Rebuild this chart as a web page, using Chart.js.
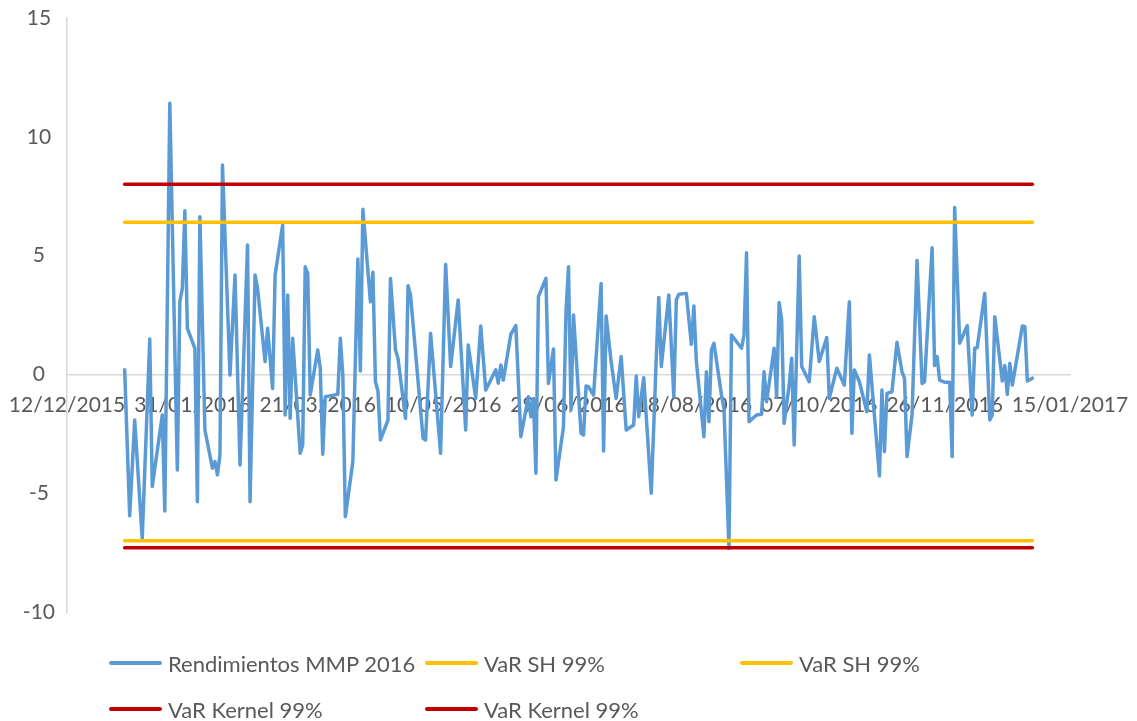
<!DOCTYPE html>
<html>
<head>
<meta charset="utf-8">
<title>Rendimientos MMP 2016</title>
<script src="https://cdn.jsdelivr.net/npm/chart.js@4"></script>
<style>
  html, body { margin: 0; padding: 0; background: #fff; }
  #wrap { position: relative; width: 1137px; height: 721px; }
  #legend { position: absolute; left: 0; top: 0; width: 100%; height: 100%; pointer-events: none;
            font-family: Lato, sans-serif; font-size: 22px; color: #595959; }
  .item { position: absolute; height: 26px; display: flex; align-items: center; white-space: nowrap; }
  .swatch { width: 53px; height: 4px; margin-right: 6px; border-radius: 2px; }
</style>
</head>
<body>
<div id="wrap">
  <canvas id="chart" width="1137" height="721"></canvas>
  <div id="legend"></div>
</div>
<script>
// x is days since 12/12/2015 (Excel date axis, major unit 50 days)
const BASE_DATE = Date.UTC(2015, 11, 12);
const X_TICKS = [0, 50, 100, 150, 200, 250, 300, 350, 400];
const Y_TICKS = [-10, -5, 0, 5, 10, 15];

const DAYS = [
  23, 25, 27, 30, 33, 34, 38, 39, 41, 44, 45, 46, 47, 48, 51, 52, 53, 55, 58, 59,
  60, 61, 62, 65, 67, 69, 72, 73, 75, 76, 79, 80, 82, 83, 86, 87, 88, 89, 90, 93,
  94, 95, 96, 97, 100, 101, 102, 103, 108, 109, 110, 111, 114, 116, 117, 118, 121, 122, 123, 124,
  125, 128, 129, 131, 132, 135, 136, 137, 142, 143, 145, 149, 151, 153, 156, 159, 160, 163, 165, 167,
  171, 172, 173, 174, 177, 179, 181, 184, 185, 186, 187, 188, 191, 192, 194, 195, 198, 199, 200, 201,
  202, 205, 206, 207, 208, 210, 213, 214, 215, 217, 219, 221, 223, 226, 227, 228, 230, 233, 235, 236,
  237, 240, 242, 243, 244, 247, 249, 250, 251, 254, 255, 256, 257, 258, 261, 262, 264, 265, 269, 270,
  271, 272, 275, 277, 278, 279, 282, 283, 284, 285, 286, 288, 289, 290, 292, 293, 296, 298, 300, 303,
  304, 305, 307, 310, 312, 313, 314, 316, 319, 320, 324, 325, 326, 327, 329, 331, 333, 334, 335, 337,
  339, 341, 342, 345, 346, 347, 348, 350, 352, 353, 354, 356, 359, 361, 362, 363, 366, 368, 369, 370,
  373, 374, 375, 376, 377, 381, 382, 383, 385
];
const RETURNS = [
  0.2, -5.95, -1.92, -6.9, 1.49, -4.72, -1.71, -5.75, 11.41, -4.02, 3.06, 3.62, 6.89, 1.94, 1.1, -5.36, 6.64, -2.34, -3.95, -3.67,
  -4.23, -3.39, 8.81, -0.03, 4.18, -3.81, 5.45, -5.36, 4.18, 3.62, 0.54, 1.94, -0.59, 4.18, 6.29, -1.71, 3.34, -1.85, 1.52, -3.32,
  -2.97, 4.53, 4.25, -0.87, 1.03, 0.26, -3.36, -0.94, -0.84, 1.52, -0.03, -5.99, -3.67, 4.86, 0.14, 6.95, 3.06, 4.3, -0.31, -0.7,
  -2.76, -1.92, 4.04, 1.03, 0.68, -1.85, 3.73, 3.34, -2.69, -2.76, 1.73, -3.32, 4.63, 0.33, 3.13, -2.34, 1.24, -1.01, 2.04, -0.66,
  0.19, -0.37, 0.4, -0.24, 1.69, 2.05, -2.62, -0.94, -1.78, -1.01, -4.16, 3.27, 4.04, -0.38, 1.07, -4.44, -2.2, 2.64, 4.53, -1.5,
  2.5, -2.48, -2.55, -0.49, -0.52, -0.87, 3.83, -3.22, 2.46, 0.54, -1.01, 0.75, -2.34, -2.13, -0.07, -1.78, -0.14, -5.0, 0.68, 3.24,
  0.33, 3.34, -0.94, 3.13, 3.37, 3.41, 1.27, 2.88, 0.54, -2.62, 0.11, -1.99, 1.03, 1.31, -0.87, -1.43, -7.32, 1.66, 1.1, 1.66,
  5.12, -1.99, -1.71, -1.68, 0.11, -1.15, 1.1, -0.94, 3.03, 2.3, -2.06, -0.45, 0.68, -2.97, 4.98, 0.33, -0.31, 2.43, 0.54, 1.55,
  -1.01, -0.59, 0.26, -0.45, 3.06, -2.48, 0.19, -0.31, -1.57, 0.82, -4.27, -0.66, -3.25, -0.8, -0.73, 1.35, 0.11, -0.16, -3.46, -1.71,
  4.79, -0.38, -0.31, 5.33, 0.37, 0.75, -0.24, -0.33, -0.33, -3.46, 7.02, 1.31, 2.05, -1.71, 1.1, 1.13, 3.41, -1.92, -1.71, 2.43,
  -0.28, 0.37, -0.84, 0.47, -0.45, 2.04, 2.01, -0.28, -0.16
];

// VaR levels: [upper, lower]
const VAR_SH = [6.4, -7.0];
const VAR_KERNEL = [8.0, -7.3];
const LABELS = ['Rendimientos MMP 2016', 'VaR SH 99%', 'VaR SH 99%', 'VaR Kernel 99%', 'VaR Kernel 99%'];
const COLORS = ['#5B9BD5', '#FFC000', '#FFC000', '#C00000', '#C00000'];
const LEGEND_SLOTS = [[109, 663], [425, 663], [740, 663], [109, 709], [425, 709]];

const TEXT = '#595959';
const AXIS = '#D9D9D9';
const FONT = { family: 'Lato, sans-serif', size: 21 };

function fmtDate(n) {
  const d = new Date(BASE_DATE + n * 86400000);
  const p = v => String(v).padStart(2, '0');
  return `${p(d.getUTCDate())}/${p(d.getUTCMonth() + 1)}/${d.getUTCFullYear()}`;
}

const first = DAYS[0], last = DAYS[DAYS.length - 1];
const flat = v => [{ x: first, y: v }, { x: last, y: v }];
const levels = [null, VAR_SH[0], VAR_SH[1], VAR_KERNEL[0], VAR_KERNEL[1]];

const datasets = LABELS.map((label, i) => ({
  label,
  data: i === 0 ? DAYS.map((d, j) => ({ x: d, y: RETURNS[j] })) : flat(levels[i]),
  borderColor: COLORS[i],
  backgroundColor: COLORS[i],
  borderWidth: 3.5,
  order: i === 0 ? 1 : 0,
}));

const chart = new Chart(document.getElementById('chart'), {
  type: 'line',
  data: { datasets },
  options: {
    responsive: false, animation: false,
    layout: { padding: { top: 18, right: 67, bottom: 109, left: 0 } },
    elements: { point: { radius: 0 }, line: { tension: 0, borderJoinStyle: 'round', borderCapStyle: 'round' } },
    plugins: { legend: { display: false }, tooltip: { enabled: false } },
    scales: {
      x: {
        type: 'linear', min: X_TICKS[0], max: X_TICKS[X_TICKS.length - 1], position: { y: 0 },
        afterBuildTicks: s => { s.ticks = X_TICKS.map(v => ({ value: v })); },
        afterFit: s => { s.height = 0; s.paddingLeft = 0; s.paddingRight = 0; },
        grid: { display: false, drawTicks: false },
        border: { display: true, color: AXIS, width: 1.5 },
        ticks: { callback: v => fmtDate(v), maxRotation: 0, autoSkip: false, padding: 18, color: TEXT, font: FONT },
      },
      y: {
        min: Y_TICKS[0], max: Y_TICKS[Y_TICKS.length - 1],
        afterBuildTicks: s => { s.ticks = Y_TICKS.map(v => ({ value: v })); },
        afterFit: s => { s.width = 67; s.paddingTop = 0; s.paddingBottom = 0; },
        grid: { display: false, drawTicks: false },
        border: { display: true, color: AXIS, width: 1.5 },
        ticks: { crossAlign: 'center', padding: 12, color: TEXT, font: FONT },
      },
    },
  },
});

// legend laid out like the Excel one (3 columns, 2 rows)
const legend = document.getElementById('legend');
chart.data.datasets.forEach((ds, i) => {
  const [left, cy] = LEGEND_SLOTS[i];
  const el = document.createElement('div');
  el.className = 'item';
  el.style.left = left + 'px';
  el.style.top = (cy - 13) + 'px';
  el.innerHTML = `<span class="swatch" style="background:${ds.borderColor}"></span><span>${ds.label}</span>`;
  legend.appendChild(el);
});
</script>
</body>
</html>
